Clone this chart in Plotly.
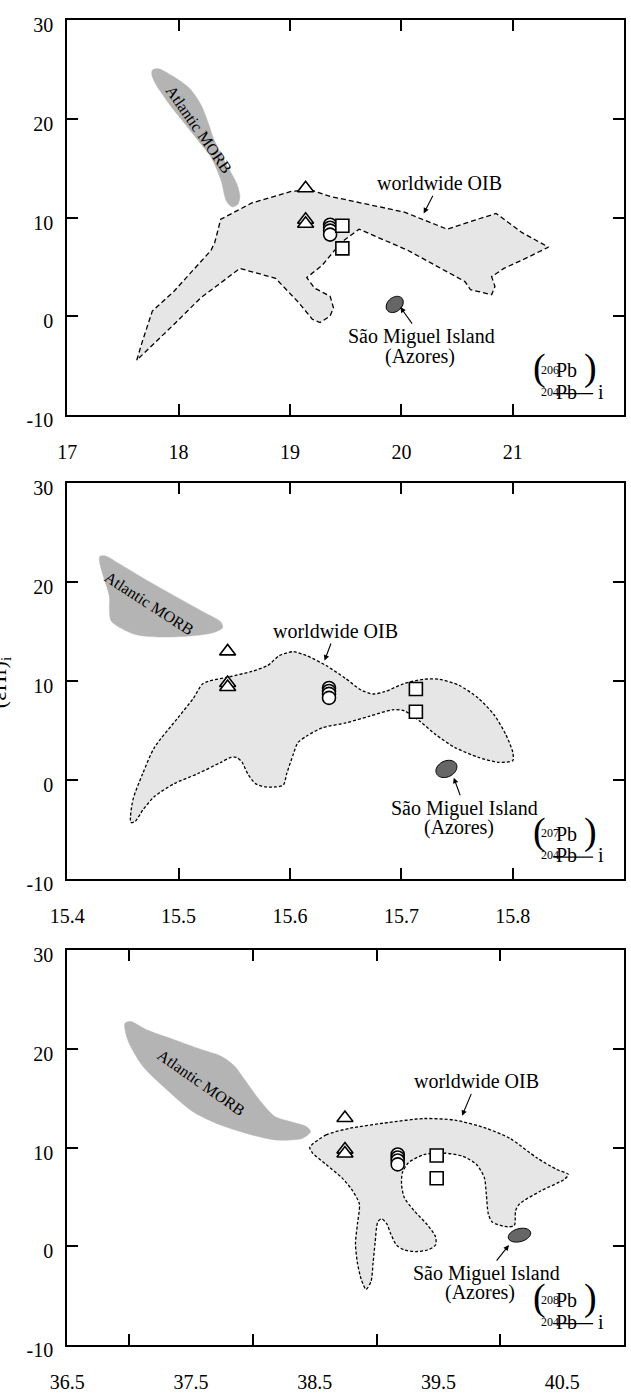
import math
import plotly.graph_objects as go

FONT = "Liberation Serif"

# ---------------- samples: initial eHf vs initial Pb ratios ----------------
ehf_triangles = [13.0, 9.8, 9.4]
ehf_circles = [9.3, 9.0, 8.7, 8.3]
ehf_squares = [9.2, 6.9]

pb206_triangles = [19.14, 19.14, 19.14]
pb206_circles = [19.36, 19.36, 19.36, 19.36]
pb206_squares = [19.47, 19.47]

pb207_triangles = [15.544, 15.544, 15.544]
pb207_circles = [15.635, 15.635, 15.635, 15.635]
pb207_squares = [15.713, 15.713]

pb208_triangles = [38.744, 38.744, 38.744]
pb208_circles = [39.17, 39.17, 39.17, 39.17]
pb208_squares = [39.485, 39.485]

# ---------------- worldwide OIB fields ----------------
oib206_x = [17.624, 17.677, 17.764, 17.957, 18.29, 18.325, 18.378, 18.658, 19.009, 19.184,
            19.36, 20.026, 20.41, 20.85, 21.08, 21.32, 21.11, 20.92, 20.81, 20.84,
            20.81, 20.62, 20.57, 20.41, 20.06, 19.62, 19.46, 19.29, 19.15, 19.22,
            19.36, 19.39, 19.36, 19.27, 19.2, 19.08, 18.87, 18.55, 18.2, 17.96, 17.75, 17.624]
oib206_y = [-4.43, -2.44, 0.55, 2.54, 6.69, 7.52, 9.85, 11.51, 12.67, 12.84,
            12.17, 10.58, 8.85, 10.45, 8.52, 7.03, 5.86, 4.87, 4.04, 3.04,
            2.21, 2.71, 3.54, 4.54, 6.69, 8.85, 7.52, 5.2, 3.94, 2.88,
            2.05, 0.88, 0.05, -0.61, -0.28, 1.38, 3.87, 4.87, 1.9, -0.78, -3.1, -4.43]

oib207_x = [15.4571, 15.4589, 15.4677, 15.4782, 15.4992, 15.5132, 15.522, 15.5448, 15.5658, 15.5799,
            15.5904, 15.6027, 15.6149, 15.6324, 15.65, 15.664, 15.6745, 15.685, 15.7026, 15.72,
            15.734, 15.7516, 15.7692, 15.7832, 15.7937, 15.80, 15.80, 15.7867, 15.7692, 15.7481,
            15.7306, 15.7166, 15.7026, 15.692, 15.671, 15.65, 15.629, 15.615, 15.607, 15.603,
            15.597, 15.594, 15.587, 15.578, 15.569, 15.562, 15.557, 15.552, 15.547, 15.538,
            15.517, 15.496, 15.478, 15.468, 15.461, 15.4571]
oib207_y = [-4.30, -2.04, 0.62, 3.27, 6.26, 8.25, 9.75, 10.41, 10.98, 11.57,
            12.57, 12.97, 12.57, 11.57, 10.25, 9.08, 8.69, 8.92, 9.75, 10.18,
            10.18, 9.58, 8.25, 6.59, 4.60, 2.78, 1.95, 1.78, 2.28, 3.27,
            4.60, 5.93, 6.99, 7.09, 6.43, 5.76, 5.27, 4.44, 3.77, 2.61,
            0.62, -0.54, -0.71, -0.71, -0.38, 0.62, 1.78, 2.28, 2.28, 1.78,
            0.62, -0.38, -1.71, -3.03, -4.2, -4.30]

oib208_x = [38.46, 38.592, 38.782, 39.097, 39.381, 39.634, 39.886, 40.075, 40.296, 40.454,
            40.549, 40.517, 40.328, 40.154, 40.123, 40.113, 40.06, 39.933, 39.902, 39.886,
            39.87, 39.807, 39.697, 39.539, 39.381, 39.255, 39.208, 39.201, 39.223, 39.302,
            39.413, 39.476, 39.476, 39.413, 39.318, 39.223, 39.16, 39.113, 39.081, 39.04,
            39.009, 38.987, 38.971, 38.955, 38.914, 38.876, 38.845, 38.829, 38.845, 38.86,
            38.797, 38.718, 38.592, 38.482, 38.46]
oib208_y = [10.02, 11.28, 11.95, 12.54, 12.94, 12.78, 11.95, 10.95, 8.95, 7.79,
            7.29, 6.79, 5.63, 4.30, 3.63, 2.14, 1.97, 2.47, 3.30, 5.30,
            6.96, 8.29, 9.12, 9.45, 9.29, 8.45, 7.46, 6.29, 4.96, 3.63,
            2.14, 0.97, 0.14, -0.36, -0.52, -0.36, 0.14, 1.31, 2.30, 2.80,
            2.47, 0.31, -1.69, -3.52, -4.35, -3.35, -1.69, 0.31, 2.30, 4.30,
            5.79, 6.96, 8.29, 9.45, 10.02]

# ---------------- Atlantic MORB fields ----------------
morb206_x = [17.764, 17.817, 17.957, 18.097, 18.2, 18.27, 18.31, 18.41, 18.52, 18.55,
             18.53, 18.48, 18.43, 18.38, 18.29, 18.2, 18.06, 17.92, 17.8, 17.76, 17.764]
morb206_y = [24.95, 25.12, 24.29, 23.13, 21.47, 19.48, 18.15, 15.82, 13.5, 12.17,
             11.34, 11.11, 11.67, 13.83, 16.16, 17.48, 19.48, 21.47, 23.46, 24.46, 24.95]

morb207_x = [15.4291, 15.4344, 15.4466, 15.4712, 15.5027, 15.5238, 15.5378, 15.5395, 15.5308, 15.5097,
             15.4817, 15.4607, 15.4396, 15.4379, 15.4379, 15.4326, 15.4291, 15.4291]
morb207_y = [22.6, 22.66, 21.87, 20.21, 18.21, 16.89, 15.99, 15.39, 14.89, 14.56,
             14.46, 14.73, 16.06, 17.22, 18.55, 20.54, 22.03, 22.6]

morb208_x = [36.967, 37.014, 37.141, 37.362, 37.582, 37.74, 37.851, 37.93, 38.056, 38.182,
             38.308, 38.434, 38.466, 38.403, 38.308, 38.182, 37.993, 37.74, 37.519, 37.298,
             37.109, 36.999, 36.967, 36.967]
morb208_y = [22.59, 22.75, 21.92, 20.92, 19.93, 19.26, 18.26, 16.93, 14.77, 13.11,
             12.61, 12.11, 11.61, 10.95, 10.78, 10.78, 11.28, 12.28, 13.61, 15.94,
             18.26, 20.59, 21.92, 22.59]

# ---------------- Sao Miguel (Azores) ----------------
saomiguel_x = [19.94, 15.7404, 40.154]
saomiguel_y = [1.22, 1.11, 1.14]

# ---------------- axes ----------------
x_ranges = [[17, 22], [15.4, 15.9], [36.5, 41.0]]
x_ticklabels = [["17", "18", "19", "20", "21"],
                ["15.4", "15.5", "15.6", "15.7", "15.8"],
                ["36.5", "37.5", "38.5", "39.5", "40.5"]]
x_tickvals = [[17, 18, 19, 20, 21],
              [15.4, 15.5, 15.6, 15.7, 15.8],
              [36.5, 37.5, 38.5, 39.5, 40.5]]
x_minor_ticks_208 = [37, 38, 39, 40]
y_tickvals = [-10, 0, 10, 20, 30]
y_ticklabels = ["-10", "0", "10", "20", "30"]
pb_numerators = ["206", "207", "208"]

# label anchors (data coords) per panel
oib_label = [(20.34, 13.5), (15.641, 15.06), (39.807, 16.7)]
oib_arrow_tip = [(20.2, 10.44), (15.631, 12.07), (39.69, 13.21)]
morb_label = [(18.185, 18.98, 55), (15.474, 17.88, 33), (37.582, 16.6, 35)]
sm_label = [(20.18, -2.04, 20.17, -4.03),
            (15.757, -2.87, 15.752, -4.86),
            (39.886, -2.75, 39.839, -4.68)]
sm_arrow_tip = [(19.99, 0.95), (15.747, 0.22), (40.069, 0.14)]
sm_ellipse = [(9.5, 7.0, 40), (11.0, 8.0, 25), (11.5, 6.5, 15)]  # semi-axes (px) and tilt (deg)

dash_styles = ["5px,3px", "3px,2px", "3px,2px"]
line_shapes = ["linear", "spline", "spline"]

X_DOMAIN = [0.0803, 0.9889]
Y_DOMAINS = [[0.70265, 0.98948], [0.36574, 0.65308], [0.02668, 0.31402]]

OIB_FILL = "#e6e6e6"
MORB_FILL = "#b4b4b4"
SM_FILL = "#666666"

fig = go.Figure()

fields = [
    (oib206_x, oib206_y, morb206_x, morb206_y,
     pb206_triangles, pb206_circles, pb206_squares),
    (oib207_x, oib207_y, morb207_x, morb207_y,
     pb207_triangles, pb207_circles, pb207_squares),
    (oib208_x, oib208_y, morb208_x, morb208_y,
     pb208_triangles, pb208_circles, pb208_squares),
]

shapes = []
annotations = []


def ellipse_path(a, b, deg, n=48):
    t = math.radians(deg)
    pts = []
    for k in range(n):
        u = 2 * math.pi * k / n
        ex, ey = a * math.cos(u), b * math.sin(u)
        pts.append((ex * math.cos(t) - ey * math.sin(t), ex * math.sin(t) + ey * math.cos(t)))
    return "M" + " L".join(f"{px:.2f},{py:.2f}" for px, py in pts) + " Z"


def text(x, y, s, size, xref, yref, **kw):
    d = dict(x=x, y=y, xref=xref, yref=yref, text=s, showarrow=False,
             font=dict(family=FONT, size=size, color="black"))
    d.update(kw)
    return d


# vertical offset of the corner quantity label, in y-domain units
QLAB_DY = -0.0175

for i, (ox, oy, mx, my, tx, cx, sx) in enumerate(fields):
    xa = "x" if i == 0 else f"x{i + 1}"
    ya = "y" if i == 0 else f"y{i + 1}"
    xd = f"{xa} domain"
    yd = f"{ya} domain"

    fig.add_trace(go.Scatter(
        x=ox, y=oy, xaxis=xa, yaxis=ya, mode="lines", fill="toself",
        fillcolor=OIB_FILL, hoverinfo="skip", showlegend=False,
        line=dict(color="black", width=1.3, dash=dash_styles[i],
                  shape=line_shapes[i], smoothing=0.7)))
    fig.add_trace(go.Scatter(
        x=mx, y=my, xaxis=xa, yaxis=ya, mode="lines", fill="toself",
        fillcolor=MORB_FILL, hoverinfo="skip", showlegend=False,
        line=dict(color=MORB_FILL, width=0.5, shape="spline", smoothing=0.8)))

    marker_line = dict(color="black", width=1.6)
    fig.add_trace(go.Scatter(
        x=tx, y=ehf_triangles, xaxis=xa, yaxis=ya, mode="markers", showlegend=False,
        marker=dict(symbol="triangle-up", size=14, color="white", line=marker_line)))
    fig.add_trace(go.Scatter(
        x=cx, y=ehf_circles, xaxis=xa, yaxis=ya, mode="markers", showlegend=False,
        marker=dict(symbol="circle", size=13, color="white", line=marker_line)))
    fig.add_trace(go.Scatter(
        x=sx, y=ehf_squares, xaxis=xa, yaxis=ya, mode="markers", showlegend=False,
        marker=dict(symbol="square", size=13, color="white", line=marker_line)))

    # Sao Miguel ellipse
    a, b, deg = sm_ellipse[i]
    shapes.append(dict(type="path", xref=xa, yref=ya, xsizemode="pixel", ysizemode="pixel",
                       xanchor=saomiguel_x[i], yanchor=saomiguel_y[i],
                       path=ellipse_path(a, b, deg), fillcolor=SM_FILL,
                       line=dict(color="black", width=1), layer="above"))

    # field labels with their pointer arrows
    lx, ly = oib_label[i]
    hx, hy = oib_arrow_tip[i]
    annotations.append(text(hx, hy, "worldwide OIB", 20, xa, ya,
                            showarrow=True, ax=lx, ay=ly, axref=xa, ayref=ya,
                            arrowhead=2, arrowsize=1, arrowwidth=1.1, arrowcolor="black",
                            standoff=0))
    mlx, mly, mang = morb_label[i]
    annotations.append(text(mlx, mly, "Atlantic MORB", 16, xa, ya, textangle=mang))
    s1x, s1y, s2x, s2y = sm_label[i]
    hx, hy = sm_arrow_tip[i]
    annotations.append(text(hx, hy, "São Miguel Island", 20, xa, ya,
                            showarrow=True, ax=s1x, ay=s1y, axref=xa, ayref=ya,
                            arrowhead=2, arrowsize=1, arrowwidth=1.1, arrowcolor="black",
                            standoff=0))
    annotations.append(text(s2x, s2y, "(Azores)", 20, xa, ya))

    # x-axis quantity: (xxxPb / 204Pb)_i in the lower right corner of the frame
    d = QLAB_DY
    annotations.append(text(0.863, 0.078 + d, "(", 38, xd, yd))
    annotations.append(text(0.955, 0.078 + d, ")", 38, xd, yd))
    annotations.append(text(0.8866, 0.110 + d, pb_numerators[i], 12, xd, yd))
    annotations.append(text(0.9197, 0.099 + d, "Pb", 20, xd, yd))
    annotations.append(text(0.8866, 0.0545 + d, "204", 12, xd, yd))
    annotations.append(text(0.9197, 0.0435 + d, "Pb", 20, xd, yd))
    annotations.append(text(0.9677, 0.0441 + d, "i", 20, xd, yd))
    shapes.append(dict(type="line", xref=xd, yref=yd, x0=0.8727, x1=0.9442,
                       y0=0.0723 + d, y1=0.0723 + d, line=dict(color="black", width=1.3)))

# shared y-axis title
annotations.append(text(-0.0032, 0.5079, "(εHf)<sub>i</sub>", 22, "paper", "paper",
                        xanchor="right", textangle=-90))

axis_style = dict(showline=True, linecolor="black", linewidth=2, mirror="ticks",
                  ticks="inside", ticklen=11, tickwidth=2, tickcolor="black",
                  showgrid=False, zeroline=False,
                  tickfont=dict(family=FONT, size=20, color="black"))

layout = dict(width=631, height=1398, margin=dict(l=0, r=0, t=0, b=0),
              paper_bgcolor="white", plot_bgcolor="white", showlegend=False,
              shapes=shapes, annotations=annotations)

for i in range(3):
    xk = "xaxis" if i == 0 else f"xaxis{i + 1}"
    yk = "yaxis" if i == 0 else f"yaxis{i + 1}"
    ya = "y" if i == 0 else f"y{i + 1}"
    xa = "x" if i == 0 else f"x{i + 1}"
    xcfg = dict(axis_style, domain=X_DOMAIN, range=x_ranges[i], anchor=ya,
                tickmode="array", tickvals=x_tickvals[i], ticktext=x_ticklabels[i],
                ticklabelstandoff=18)
    if i == 2:
        xcfg["ticklen"] = 0
        xcfg["minor"] = dict(tickmode="array", tickvals=x_minor_ticks_208, ticks="inside",
                             ticklen=11, tickwidth=2, tickcolor="black")
    layout[xk] = xcfg
    layout[yk] = dict(axis_style, domain=Y_DOMAINS[i], range=[-10, 30], anchor=xa,
                      tickmode="array", tickvals=y_tickvals, ticktext=y_ticklabels,
                      ticklabelstandoff=8, ticklabelshift=5)

fig.update_layout(**layout)
fig.write_html("out.html")
